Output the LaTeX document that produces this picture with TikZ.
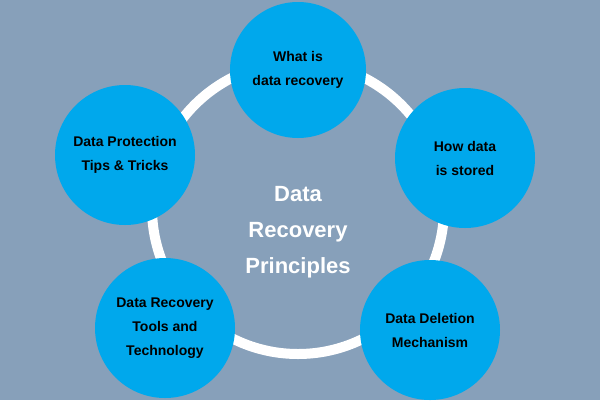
\documentclass[tikz,border=0pt]{standalone}
\usepackage{fontspec}
\setmainfont{Liberation Sans}
\definecolor{bg}{HTML}{87A0BA}
\definecolor{bl}{HTML}{00A8EC}
\begin{document}
\begin{tikzpicture}[x=1pt,y=-1pt,
  bub/.style={circle,fill=bl,minimum size=140pt,inner sep=0pt,align=center,font=\bfseries\fontsize{14}{24}\selectfont,text=black}]
\fill[bg] (0,0) rectangle (600,400);
\useasboundingbox (0,0) rectangle (600,400);
\coordinate (c) at (298,208);
\draw[white,line width=10pt] (c) circle (146);
\node[text=white,align=center,font=\bfseries\fontsize{22}{36}\selectfont] (t) at (298,232) {Data\\Recovery\\Principles};
\node[bub,minimum size=136pt] (a) at (298,70) {What is\\data recovery};
\node[bub] (b) at (465,158) {How data\\is stored};
\node[bub] (d) at (430,330) {Data Deletion\\Mechanism};
\node[bub] (e) at (165,328) {Data Recovery\\Tools and\\Technology};
\node[bub] (f) at (125,155) {Data Protection\\Tips \& Tricks};
\end{tikzpicture}
\end{document}
